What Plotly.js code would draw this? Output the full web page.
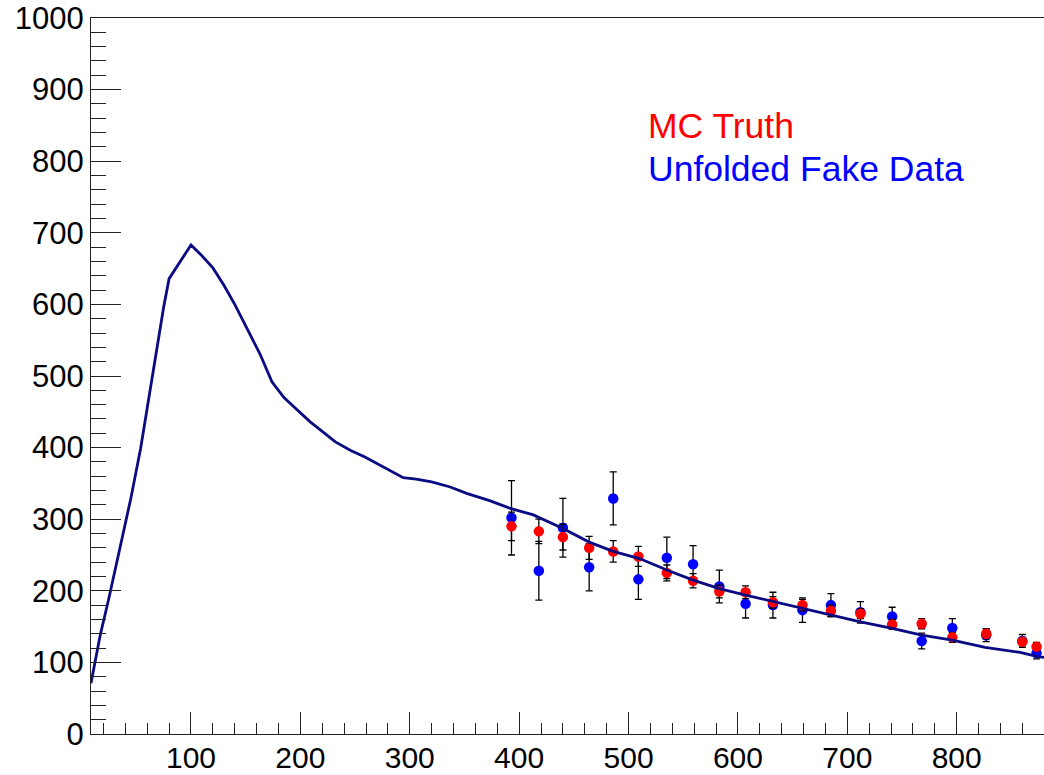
<!DOCTYPE html>
<html>
<head>
<meta charset="utf-8">
<script src="https://cdn.plot.ly/plotly-3.0.1.min.js"></script>
<style>html,body{margin:0;padding:0;background:#fff;}#chart{width:1044px;height:775px;}</style>
</head>
<body>
<div id="chart"></div>
<script>
// Reconstructed MC spectrum (dark line)
const curveX = [8.6, 17, 25, 35, 45, 54, 61, 70, 75, 80, 90, 100, 110, 120, 130, 140, 150, 163, 174, 185, 194, 209, 232, 246, 259, 276, 294, 306, 320, 337, 352, 373, 392, 413, 440, 464, 486, 510, 535, 559, 583, 607, 632, 658, 685, 711, 740, 768, 796, 826, 858, 874, 880];
const curveY = [71, 138, 190, 260, 329, 399, 466, 550, 596, 636, 660, 683, 668, 651, 627, 600, 570, 531, 492, 470, 457, 436, 408, 396, 387, 373, 358, 356, 352, 345, 336, 326, 315, 306, 287, 268, 255, 245, 229, 215, 203, 194, 185, 175, 166, 157, 148, 138, 131, 121, 114, 108, 107];

// Bin positions of the comparison points
const binX = [393, 418, 440, 464, 486, 509, 535, 559, 583, 607, 632, 659, 685, 712, 741, 768, 796, 827, 860, 873];

// MC Truth (red)
const truthY   = [290, 283, 275, 260, 255, 248, 225, 214, 199, 198, 184, 180, 172, 168, 153, 154, 135, 140, 129, 122];
const truthErr = [20, 17, 18, 16, 15, 14, 11, 10, 9, 9, 8, 8, 8, 7, 7, 7, 7, 7, 6, 6];

// Unfolded Fake Data (blue)
const dataY   = [302, 228, 288, 233, 329, 216, 246, 237, 206, 182, 180, 173, 180, 170, 164, 130, 148, 138, 130, 113];
const dataErr = [52, 41, 41, 33, 37, 28, 29, 26, 23, 20, 18, 17, 16, 15, 13, 11, 13, 9, 9, 8];

const legendLabels = ["MC Truth", "Unfolded Fake Data"];

const FONT = "'Liberation Sans', Arial, Helvetica, sans-serif";

const traces = [
  {
    x: binX, y: dataY, type: 'scatter', mode: 'markers',
    marker: {color: '#0000ff', size: 10.5, symbol: 'circle'},
    error_y: {type: 'data', array: dataErr, visible: true, color: '#000', thickness: 1.3, width: 3.5},
    showlegend: false, hoverinfo: 'skip'
  },
  {
    x: binX, y: truthY, type: 'scatter', mode: 'markers',
    marker: {color: '#ff0000', size: 10.5, symbol: 'circle'},
    error_y: {type: 'data', array: truthErr, visible: true, color: '#000', thickness: 1.3, width: 3.5},
    showlegend: false, hoverinfo: 'skip'
  },
  {
    x: curveX, y: curveY, type: 'scatter', mode: 'lines',
    line: {color: '#0a0a82', width: 2.8},
    showlegend: false, hoverinfo: 'skip'
  }
];

const layout = {
  width: 1044, height: 775,
  margin: {l: 91, r: 0, t: 18, b: 41, pad: 0},
  paper_bgcolor: '#fff', plot_bgcolor: '#fff',
  font: {family: FONT, color: '#000', size: 31},
  showlegend: false,
  xaxis: {
    range: [8.6, 879.8], showgrid: false, zeroline: false,
    showline: true, linecolor: '#222', linewidth: 1, mirror: true,
    ticks: 'inside', ticklen: 22, tickwidth: 1, tickcolor: '#222',
    dtick: 100, tick0: 0, ticklabelstandoff: -3,
    minor: {dtick: 20, ticks: 'inside', ticklen: 11, tickwidth: 1, tickcolor: '#222', showgrid: false},
    tickfont: {family: FONT, size: 30, color: '#000'}
  },
  yaxis: {
    range: [0, 1000], showgrid: false, zeroline: false,
    showline: true, linecolor: '#222', linewidth: 1, mirror: false,
    ticks: 'inside', ticklen: 30, tickwidth: 1, tickcolor: '#222',
    dtick: 100, tick0: 0,
    minor: {dtick: 20, ticks: 'inside', ticklen: 15, tickwidth: 1, tickcolor: '#222', showgrid: false},
    tickfont: {family: FONT, size: 31, color: '#000'}
  },
  annotations: [
    {text: legendLabels[0], xref: 'paper', yref: 'paper', x: 0.5825, y: 0.8495,
     xanchor: 'left', yanchor: 'middle', showarrow: false,
     font: {family: FONT, size: 35.5, color: '#ff0000'}},
    {text: legendLabels[1], xref: 'paper', yref: 'paper', x: 0.5825, y: 0.7885,
     xanchor: 'left', yanchor: 'middle', showarrow: false,
     font: {family: FONT, size: 35.5, color: '#0000ff'}}
  ]
};

Plotly.newPlot('chart', traces, layout, {displayModeBar: false, staticPlot: true});
</script>
</body>
</html>
